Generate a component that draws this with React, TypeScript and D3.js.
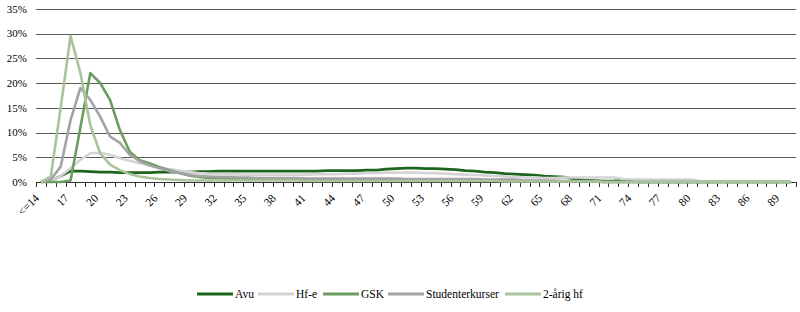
import React from 'react';
import * as d3 from 'd3';

const categories: string[] = ['<=14', ...d3.range(15, 91).map(String)];

const avu = [
  0, 0.3, 1.2, 2.2, 2.2, 2.1, 2.0, 2.0, 1.9, 1.9,
  1.9, 1.9, 2.0, 2.0, 2.0, 2.0, 2.1, 2.1, 2.2, 2.2,
  2.2, 2.2, 2.2, 2.2, 2.2, 2.2, 2.2, 2.2, 2.2, 2.3,
  2.3, 2.3, 2.3, 2.4, 2.4, 2.6, 2.7, 2.8, 2.8, 2.7,
  2.7, 2.6, 2.5, 2.3, 2.2, 2.0, 1.9, 1.7, 1.6, 1.5,
  1.4, 1.2, 1.1, 1.0, 0.6, 0.4, 0.3, 0.2, 0.2, 0.4,
  0.1, 0, 0, 0, 0, 0, 0, 0, 0, 0,
  0, 0, 0, 0, 0, 0, 0,
];
const hfe = [
  0, 0.3, 1.2, 2.8, 4.5, 5.8, 5.9, 5.5, 4.8, 4.3,
  3.8, 3.4, 3.0, 2.6, 2.3, 2.0, 1.8, 1.7, 1.6, 1.6,
  1.5, 1.5, 1.5, 1.5, 1.5, 1.5, 1.5, 1.5, 1.6, 1.6,
  1.6, 1.7, 1.7, 1.8, 1.8, 1.9, 1.9, 1.9, 1.9, 1.8,
  1.8, 1.7, 1.6, 1.5, 1.4, 1.3, 1.2, 1.1, 1.0, 0.9,
  0.9, 0.8, 0.8, 0.9, 0.9, 0.9, 0.9, 0.9, 0.9, 0.6,
  0.5, 0.5, 0.5, 0.5, 0.5, 0.5, 0.5, 0.1, 0, 0,
  0, 0, 0, 0, 0, 0, 0,
];
const gsk = [
  0, 0, 0, 0.3, 11, 22, 20, 16.6, 10.5, 6.1,
  4.4, 3.8, 3.0, 2.4, 1.8, 1.3, 1.0, 0.8, 0.8, 0.7,
  0.7, 0.6, 0.6, 0.6, 0.5, 0.5, 0.5, 0.4, 0.4, 0.4,
  0.4, 0.4, 0.4, 0.4, 0.4, 0.4, 0.4, 0.3, 0.3, 0.3,
  0.3, 0.3, 0.3, 0.3, 0.3, 0.3, 0.3, 0.2, 0.2, 0.2,
  0.2, 0.2, 0.1, 0.1, 0.1, 0.1, 0.1, 0, 0, 0,
  0, 0, 0, 0, 0, 0, 0, 0, 0, 0,
  0, 0, 0, 0, 0, 0, 0,
];
const studenterkurser = [
  0, 0.5, 3.1, 12.5, 19, 16.6, 13.2, 9.2, 7.9, 5.5,
  4.2, 3.4, 2.8, 2.2, 1.8, 1.4, 1.2, 1.1, 1.0, 1.0,
  0.9, 0.9, 0.8, 0.8, 0.8, 0.8, 0.8, 0.7, 0.7, 0.7,
  0.7, 0.7, 0.7, 0.7, 0.7, 0.7, 0.7, 0.6, 0.6, 0.6,
  0.6, 0.6, 0.6, 0.6, 0.6, 0.5, 0.5, 0.5, 0.5, 0.3,
  0.3, 0.3, 0.3, 0.2, 0.2, 0.2, 0.2, 0, 0, 0,
  0, 0, 0, 0, 0, 0, 0, 0, 0, 0,
  0, 0, 0, 0, 0, 0, 0,
];
const toaarigHf = [
  0, 1.1, 15, 29.5, 22, 11.5, 5.8, 3.5, 2.4, 1.6,
  1.1, 0.8, 0.6, 0.5, 0.4, 0.3, 0.3, 0.3, 0.3, 0.3,
  0.3, 0.3, 0.3, 0.3, 0.3, 0.3, 0.3, 0.2, 0.2, 0.2,
  0.2, 0.2, 0.2, 0.2, 0.2, 0.2, 0.2, 0.2, 0.2, 0.2,
  0.2, 0.2, 0.2, 0.2, 0.2, 0.2, 0.2, 0.1, 0.1, 0.1,
  0.1, 0.1, 0.1, 0.1, 0.1, 0.1, 0.1, 0, 0, 0,
  0, 0, 0, 0, 0, 0, 0, 0, 0, 0,
  0, 0, 0, 0, 0, 0, 0,
];

const seriesNames = ['Avu', 'Hf-e', 'GSK', 'Studenterkurser', '2-årig hf'];
const seriesValues = [avu, hfe, gsk, studenterkurser, toaarigHf];
const seriesColors = ['#1b661b', '#d4d4d4', '#6b9c60', '#a3a3a3', '#a9c49a'];
const yTicks = [0, 5, 10, 15, 20, 25, 30, 35];
const legendX = [197, 258, 323, 388, 505];

export default function App() {
  const W = 800;
  const H = 312;
  const left = 36;
  const right = 796;
  const top = 8.8;
  const bottom = 182;
  const font = '"Liberation Serif", "Times New Roman", serif';

  const x = d3.scaleBand<string>().domain(categories).range([left, right]);
  const y = d3.scaleLinear().domain([0, 35]).range([bottom, top]);
  const cx = (i: number) => (x(categories[i]) as number) + x.bandwidth() / 2;
  const line = d3
    .line<number>()
    .x((_, i) => cx(i))
    .y((d) => y(d));

  const tickXs = [...categories.map((c) => x(c) as number), right];

  return (
    <svg
      width={W}
      height={H}
      style={{ position: 'absolute', left: 0, top: 0, background: '#fff' }}
      fontFamily={font}
    >
      {yTicks.map((t) => (
        <g key={t}>
          {t > 0 && (
            <line
              x1={left}
              x2={right}
              y1={Math.round(y(t)) + 0.5}
              y2={Math.round(y(t)) + 0.5}
              stroke="#5a5a5a"
              strokeWidth={1}
            />
          )}
          <text x={27} y={y(t)} dy="0.35em" textAnchor="end" fontSize={11} fill="#000">
            {t}%
          </text>
        </g>
      ))}
      <line x1={left} x2={right} y1={bottom + 0.5} y2={bottom + 0.5} stroke="#333" strokeWidth={1} />
      {tickXs.map((tx, i) => (
        <line
          key={i}
          x1={Math.round(tx) + 0.5}
          x2={Math.round(tx) + 0.5}
          y1={bottom}
          y2={bottom + 5}
          stroke="#333"
          strokeWidth={1}
        />
      ))}
      {categories.map((c, i) =>
        i % 3 === 0 ? (
          <text
            key={c}
            transform={`translate(${cx(i) - 4},${bottom + 14}) rotate(-45)`}
            textAnchor="end"
            dy="0.35em"
            fontSize={11.5}
            fill="#000"
          >
            {c}
          </text>
        ) : null
      )}
      {seriesValues.map((vals, si) => (
        <path
          key={seriesNames[si]}
          d={line(vals) as string}
          fill="none"
          stroke={seriesColors[si]}
          strokeWidth={2.6}
          strokeLinejoin="round"
        />
      ))}
      {seriesNames.map((n, si) => (
        <g key={n} transform={`translate(${legendX[si]},294)`}>
          <line x1={0} x2={36} y1={0} y2={0} stroke={seriesColors[si]} strokeWidth={3} />
          <text x={38} y={0} dy="0.35em" fontSize={11.5} fill="#000">
            {n}
          </text>
        </g>
      ))}
    </svg>
  );
}
